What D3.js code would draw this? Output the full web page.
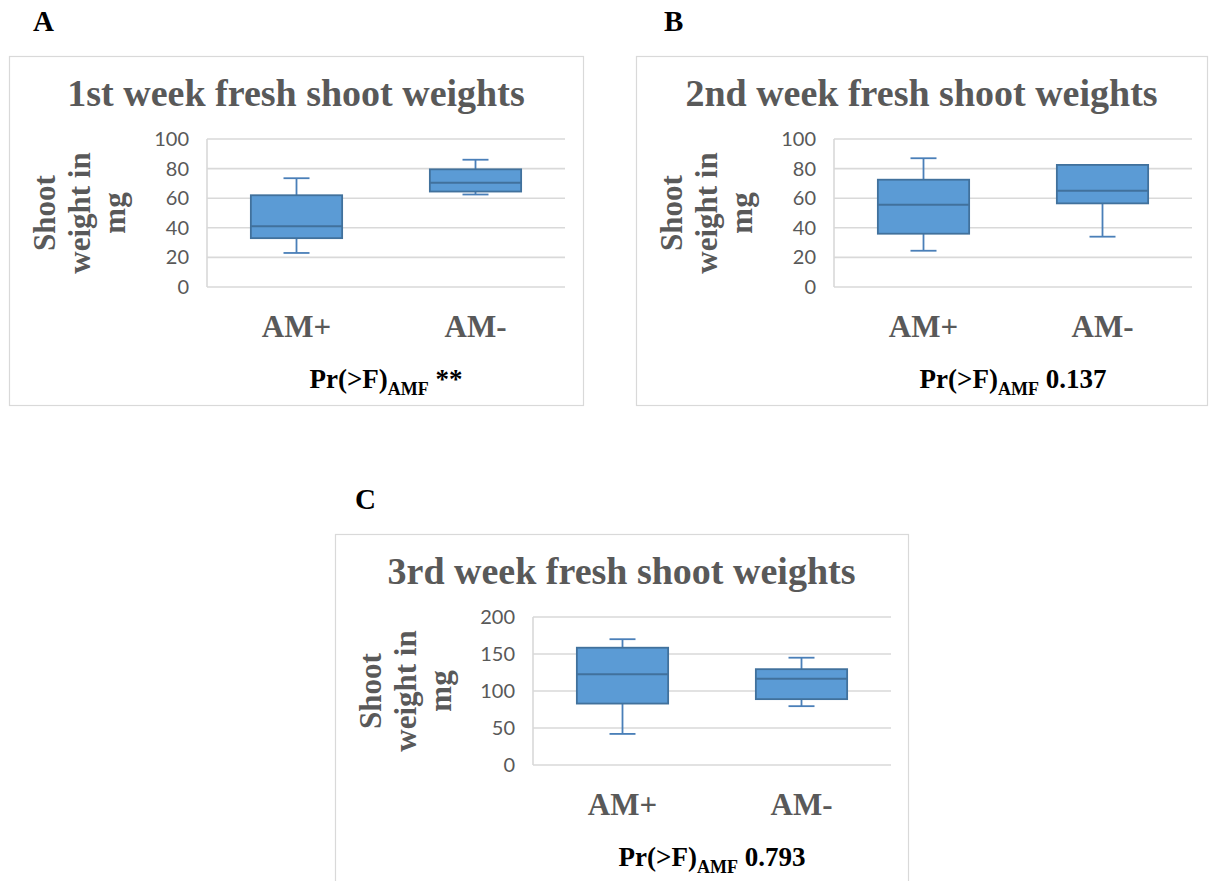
<!DOCTYPE html>
<html>
<head>
<meta charset="utf-8">
<script src="https://cdn.jsdelivr.net/npm/d3@7"></script>
<style>
  html, body { margin: 0; padding: 0; background: #fff; }
  svg { display: block; }
</style>
</head>
<body>
<svg id="fig" width="1210" height="881"></svg>
<script>
// Treatment groups
const categories = ["AM+", "AM-"];

// Five-number summaries per group: [min, q1, median, q3, max] in mg
const week1Stats = [[23, 33, 41, 62, 73.5], [62.5, 64.5, 70.5, 79.5, 86]];
const week2Stats = [[24.5, 36, 55.5, 72.5, 87], [34, 56.5, 65, 82.5, 82.5]];
const week3Stats = [[42, 83, 122.5, 158.5, 170], [79.5, 89, 116.5, 129.5, 145]];

// Axis ticks
const ticksWeeks12 = [0, 20, 40, 60, 80, 100];
const ticksWeek3 = [0, 50, 100, 150, 200];

// Panel texts
const panelLetters = ["A", "B", "C"];
const panelTitles = ["1st week fresh shoot weights", "2nd week fresh shoot weights", "3rd week fresh shoot weights"];
const pValues = ["**", "0.137", "0.793"];
const yTitleLines = ["Shoot", "weight in", "mg"];

const SERIF = "'Liberation Serif', 'Times New Roman', serif";
const SANS = "Lato, Calibri, 'Open Sans', sans-serif";
const GREY = "#595959";
const GRID = "#d9d9d9";
const BOX_FILL = "#5b9bd5";
const BOX_LINE = "#41719c";
const WHISK = "#4a7fb8";

const svg = d3.select("#fig");

function drawPanel(o) {
  const g = svg.append("g");

  // panel letter
  g.append("text")
    .attr("x", o.letterX).attr("y", o.letterY)
    .attr("font-family", SERIF).attr("font-weight", "bold")
    .attr("font-size", 29).attr("fill", "#000")
    .text(o.letter);

  // frame
  g.append("rect")
    .attr("x", o.fx + 0.5).attr("y", o.fy + 0.5)
    .attr("width", o.fw).attr("height", o.fh)
    .attr("fill", "#fff").attr("stroke", "#d9d9d9").attr("stroke-width", 1.2);

  // title
  g.append("text")
    .attr("x", o.fx + o.fw / 2).attr("y", o.fy + 50)
    .attr("text-anchor", "middle")
    .attr("font-family", SERIF).attr("font-weight", "bold")
    .attr("font-size", 38).attr("fill", GREY)
    .text(o.title);

  const left = o.fx + 198, top = o.fy + 83, width = 358, height = 148;

  const x = d3.scaleBand().domain(categories).range([left, left + width]);
  const y = d3.scaleLinear().domain(o.domain).range([top + height, top]);

  // gridlines
  g.append("g").selectAll("line").data(o.ticks).join("line")
    .attr("x1", left).attr("x2", left + width)
    .attr("y1", d => y(d)).attr("y2", d => y(d))
    .attr("stroke", GRID).attr("stroke-width", 1.6);
  // left edge of plot area
  g.append("line")
    .attr("x1", left).attr("x2", left)
    .attr("y1", y(o.domain[0])).attr("y2", y(o.domain[1]))
    .attr("stroke", GRID).attr("stroke-width", 1.6);

  // y axis tick labels
  const yAxis = d3.axisLeft(y).tickValues(o.ticks).tickSize(0).tickPadding(18);
  const ya = g.append("g").attr("transform", `translate(${left},0)`).call(yAxis);
  ya.select(".domain").remove();
  ya.selectAll("text")
    .attr("font-family", SANS).attr("font-size", 20).attr("fill", GREY);

  // y axis title (three rotated lines)
  const cy = top + height / 2;
  const baseX = [o.fx + 46, o.fx + 81, o.fx + 116];
  yTitleLines.forEach((line, i) => {
    g.append("text")
      .attr("transform", `translate(${baseX[i]},${cy}) rotate(-90)`)
      .attr("text-anchor", "middle")
      .attr("font-family", SERIF).attr("font-weight", "bold")
      .attr("font-size", 31).attr("fill", GREY)
      .text(line);
  });

  // x axis category labels
  const xAxis = d3.axisBottom(x).tickSize(0).tickPadding(0);
  const xa = g.append("g").attr("transform", `translate(0,${o.fy + 281})`).call(xAxis);
  xa.select(".domain").remove();
  xa.selectAll("text")
    .attr("dy", 0)
    .attr("font-family", SERIF).attr("font-weight", "bold")
    .attr("font-size", 31).attr("fill", GREY);

  // box plots
  const bw = x.bandwidth() * 0.51;
  const cap = 26;
  const boxes = g.append("g").selectAll("g").data(o.stats.map((s, i) => ({ cat: categories[i], s })))
    .join("g")
    .attr("transform", d => `translate(${x(d.cat) + x.bandwidth() / 2},0)`);

  // whisker stems
  boxes.append("line")
    .attr("x1", 0).attr("x2", 0)
    .attr("y1", d => y(d.s[4])).attr("y2", d => y(d.s[3]))
    .attr("stroke", WHISK).attr("stroke-width", 1.8);
  boxes.append("line")
    .attr("x1", 0).attr("x2", 0)
    .attr("y1", d => y(d.s[1])).attr("y2", d => y(d.s[0]))
    .attr("stroke", WHISK).attr("stroke-width", 1.8);
  // caps
  boxes.append("line")
    .attr("x1", -cap / 2).attr("x2", cap / 2)
    .attr("y1", d => y(d.s[4])).attr("y2", d => y(d.s[4]))
    .attr("stroke", WHISK).attr("stroke-width", 1.8);
  boxes.append("line")
    .attr("x1", -cap / 2).attr("x2", cap / 2)
    .attr("y1", d => y(d.s[0])).attr("y2", d => y(d.s[0]))
    .attr("stroke", WHISK).attr("stroke-width", 1.8);
  // box
  boxes.append("rect")
    .attr("x", -bw / 2).attr("width", bw)
    .attr("y", d => y(d.s[3])).attr("height", d => y(d.s[1]) - y(d.s[3]))
    .attr("fill", BOX_FILL).attr("stroke", BOX_LINE).attr("stroke-width", 1.8);
  // median
  boxes.append("line")
    .attr("x1", -bw / 2).attr("x2", bw / 2)
    .attr("y1", d => y(d.s[2])).attr("y2", d => y(d.s[2]))
    .attr("stroke", BOX_LINE).attr("stroke-width", 2);

  // significance note
  const pt = g.append("text")
    .attr("x", left + width / 2).attr("y", o.fy + 332)
    .attr("text-anchor", "middle")
    .attr("font-family", SERIF).attr("font-weight", "bold")
    .attr("font-size", 27).attr("fill", "#000");
  pt.append("tspan").text("Pr(>F)");
  pt.append("tspan").attr("dy", 7).attr("font-size", 18).text("AMF");
  pt.append("tspan").attr("dy", -7).text("\u00a0" + o.p);
}

drawPanel({ letter: panelLetters[0], letterX: 33, letterY: 31, fx: 9, fy: 56, fw: 574, fh: 349,
  title: panelTitles[0], stats: week1Stats, domain: [0, 100], ticks: ticksWeeks12, p: pValues[0] });
drawPanel({ letter: panelLetters[1], letterX: 664, letterY: 31, fx: 636, fy: 56, fw: 571, fh: 349,
  title: panelTitles[1], stats: week2Stats, domain: [0, 100], ticks: ticksWeeks12, p: pValues[1] });
drawPanel({ letter: panelLetters[2], letterX: 355, letterY: 509, fx: 335, fy: 534, fw: 573, fh: 360,
  title: panelTitles[2], stats: week3Stats, domain: [0, 200], ticks: ticksWeek3, p: pValues[2] });
</script>
</body>
</html>
